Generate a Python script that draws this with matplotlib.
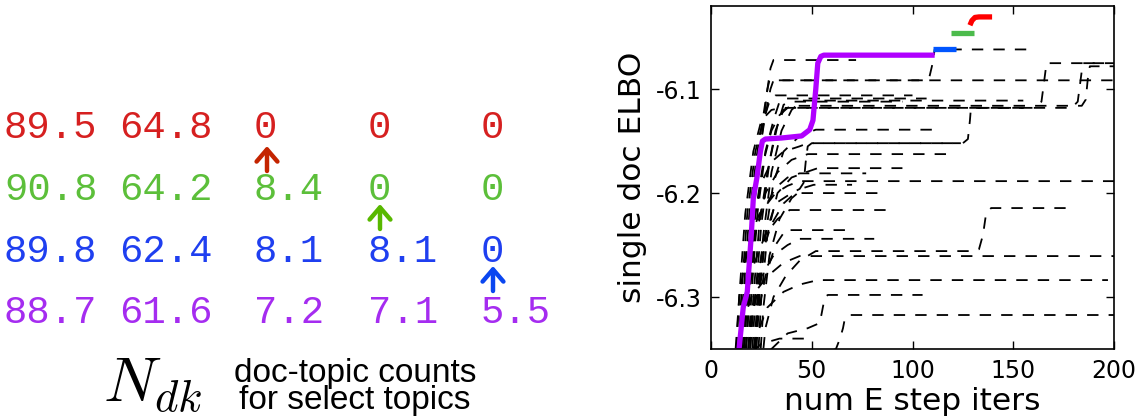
import matplotlib
matplotlib.use('Agg')
import matplotlib.pyplot as plt

W, H = 1147, 419

# ---------------- data ----------------
# doc-topic counts table (rows: red, green, blue, purple)
row_colors = ['#d62020', '#5cbf3a', '#1f3ff0', '#a52cf0']
arrow_colors = ['#c42400', '#58b800', '#0a46f0']
counts_row1 = [89.5, 64.8, 0, 0, 0]
counts_row2 = [90.8, 64.2, 8.4, 0, 0]
counts_row3 = [89.8, 62.4, 8.1, 8.1, 0]
counts_row4 = [88.7, 61.6, 7.2, 7.1, 5.5]
counts_rows = [counts_row1, counts_row2, counts_row3, counts_row4]
arrow_cols = [2, 3, 4]          # column of the zeroed topic for rows 1..3

# ELBO traces: highlighted path
purple_x = [13.4, 16, 18, 20, 21, 22.8, 24.5, 25.5, 27, 35, 45, 49, 50.6, 52, 53, 54.5, 56, 111]
purple_y = [-6.36, -6.31, -6.295, -6.24, -6.205, -6.185, -6.16, -6.15, -6.148, -6.147, -6.145,
            -6.139, -6.13, -6.10, -6.075, -6.0685, -6.0673, -6.0673]
blue_x = [110, 121.5]
blue_y = [-6.0618, -6.0618]
green_x = [119, 130.5]
green_y = [-6.0459, -6.0459]
red_x = [128.5, 129.5, 131, 133, 139.5]
red_y = [-6.0385, -6.034, -6.031, -6.0305, -6.0305]

# other restarts (dashed black)
dashed_x = [
    [14, 16, 19, 23, 26, 28, 29, 200],
    [15, 17, 20, 24, 27, 29.5, 31, 108, 110, 111, 160],
    [16, 18, 21, 25, 28, 29.5, 31, 72],
    [12, 14, 17, 21, 25, 30, 35, 160, 164, 165.5, 166.5, 200],
    [17, 19, 22, 26, 30, 34, 38, 179, 182, 183.5, 184.5, 200],
    [19, 21, 24, 28, 32, 36, 40, 184, 186, 187, 188, 200],
    [13, 15, 18, 22, 26, 29, 32, 100],
    [18, 20, 23, 27, 31, 34, 37, 107],
    [20, 22, 25, 29, 33, 36, 40, 95],
    [21, 23, 26, 30, 35, 40, 45, 155],
    [15.5, 18, 21, 25, 30, 36, 44, 48, 125, 127.5, 128.5, 129, 155],
    [22, 24, 27, 31, 36, 44, 52, 110],
    [16.5, 19, 22, 27, 33, 40, 48, 120],
    [23, 25, 28, 33, 40, 47, 53, 95],
    [13.5, 16, 20, 25, 32, 38, 44, 77],
    [11.5, 14, 18, 24, 32, 38, 44, 200],
    [24, 26, 29, 34, 40, 46, 51, 70],
    [18.5, 21, 25, 30, 36, 40, 44, 85],
    [14.5, 17, 21, 27, 33, 39, 90],
    [20.5, 23, 27, 32, 37, 70],
    [17.5, 20, 25, 31, 38, 44, 81],
    [25, 27, 31, 37, 44, 52, 128, 133, 135, 136.5, 139, 176],
    [12.5, 15, 20, 28, 36, 44, 200],
    [19.5, 22, 28, 36, 44, 53, 197],
    [26, 30, 38, 48, 54, 55.5, 56.5, 58, 105],
    [30, 40, 55, 62, 64, 65.5, 66.5, 69, 200],
    [16, 19, 25, 34, 49],
    [21.5, 23.5, 27, 32, 40, 44, 46, 47, 48, 50, 124],
]
dashed_y = [
    [-6.37, -6.30, -6.22, -6.16, -6.125, -6.10, -6.0915, -6.0915],
    [-6.37, -6.30, -6.22, -6.16, -6.125, -6.10, -6.0915, -6.0915, -6.075, -6.0618, -6.0618],
    [-6.37, -6.30, -6.22, -6.15, -6.10, -6.08, -6.072, -6.072],
    [-6.37, -6.30, -6.22, -6.16, -6.13, -6.12, -6.118, -6.118, -6.112, -6.09, -6.075, -6.075],
    [-6.37, -6.30, -6.22, -6.17, -6.14, -6.125, -6.118, -6.118, -6.112, -6.09, -6.075, -6.075],
    [-6.37, -6.30, -6.23, -6.18, -6.14, -6.12, -6.116, -6.116, -6.11, -6.09, -6.078, -6.078],
    [-6.37, -6.30, -6.22, -6.16, -6.13, -6.112, -6.106, -6.106],
    [-6.37, -6.30, -6.22, -6.16, -6.13, -6.112, -6.109, -6.109],
    [-6.37, -6.30, -6.23, -6.17, -6.135, -6.115, -6.112, -6.112],
    [-6.37, -6.30, -6.24, -6.18, -6.14, -6.12, -6.111, -6.111],
    [-6.37, -6.30, -6.23, -6.19, -6.17, -6.16, -6.155, -6.152, -6.152, -6.148, -6.13, -6.118, -6.118],
    [-6.37, -6.30, -6.24, -6.19, -6.16, -6.145, -6.139, -6.139],
    [-6.37, -6.30, -6.24, -6.20, -6.18, -6.168, -6.1625, -6.1625],
    [-6.37, -6.30, -6.24, -6.20, -6.185, -6.18, -6.176, -6.176],
    [-6.37, -6.30, -6.25, -6.22, -6.195, -6.185, -6.181, -6.181],
    [-6.37, -6.30, -6.25, -6.22, -6.20, -6.193, -6.1885, -6.1885],
    [-6.37, -6.31, -6.26, -6.225, -6.205, -6.195, -6.192, -6.192],
    [-6.37, -6.31, -6.26, -6.23, -6.21, -6.203, -6.20, -6.20],
    [-6.37, -6.31, -6.27, -6.24, -6.225, -6.2163, -6.2163],
    [-6.37, -6.32, -6.28, -6.25, -6.2356, -6.2356],
    [-6.37, -6.32, -6.28, -6.26, -6.25, -6.244, -6.244],
    [-6.37, -6.33, -6.30, -6.28, -6.265, -6.2558, -6.2558, -6.254, -6.24, -6.22, -6.2144, -6.2144],
    [-6.37, -6.33, -6.30, -6.28, -6.267, -6.2606, -6.2606],
    [-6.37, -6.34, -6.31, -6.295, -6.288, -6.2837, -6.2837],
    [-6.37, -6.35, -6.335, -6.33, -6.325, -6.31, -6.30, -6.298, -6.298],
    [-6.37, -6.36, -6.355, -6.35, -6.34, -6.33, -6.32, -6.3173, -6.3173],
    [-6.37, -6.355, -6.345, -6.34, -6.34],
    [-6.37, -6.30, -6.24, -6.21, -6.20, -6.196, -6.19, -6.17, -6.155, -6.152, -6.152],
]

x_ticks = [0, 50, 100, 150, 200]
y_ticks = [-6.3, -6.2, -6.1]
y_tick_labels = ['-6.3', '-6.2', '-6.1']

# ---------------- figure ----------------
fig = plt.figure(figsize=(W / 100, H / 100), dpi=100)

# left panel in pixel coordinates
axL = fig.add_axes([0, 0, 1, 1])
axL.set_xlim(0, W)
axL.set_ylim(H, 0)
axL.axis('off')

col_x = [4, 119, 254, 368, 481]
row_base = [138, 200, 262, 323]
for r, vals in enumerate(counts_rows):
    for c, v in enumerate(vals):
        s = '0' if v == 0 else f'{v:.1f}'
        axL.text(col_x[c], row_base[r], s, color=row_colors[r], fontsize=28,
                 family='Liberation Mono', ha='left', va='baseline')

arrow_x = [267, 380, 493]
arrow_top = [146, 204, 266]
for i, c in enumerate(arrow_cols):
    axL.annotate('', xy=(arrow_x[i], arrow_top[i]), xytext=(arrow_x[i], arrow_top[i] + 25),
                 arrowprops=dict(arrowstyle='->,head_length=0.35,head_width=0.3',
                                 color=arrow_colors[i], lw=3.2, mutation_scale=25,
                                 shrinkA=0, shrinkB=0))

axL.text(103, 402, r'$N_{dk}$', fontsize=46, ha='left', va='baseline',
         math_fontfamily='cm')
axL.text(355, 387, 'doc-topic counts\nfor select topics', fontsize=24,
         family='Liberation Sans', ha='center', va='center', linespacing=0.85)

# right panel
ax = fig.add_axes([711 / W, 1 - 349 / H, (1114 - 711) / W, (349 - 6) / H])
for xs, ys in zip(dashed_x, dashed_y):
    ax.plot(xs, ys, color='black', lw=1.3, linestyle=(0, (6.3, 5.6)))
ax.plot(purple_x, purple_y, color='#b000ff', lw=3.8, solid_capstyle='butt')
ax.plot(blue_x, blue_y, color='#0055ff', lw=3.8, solid_capstyle='butt')
ax.plot(green_x, green_y, color='#4cbb4c', lw=3.8, solid_capstyle='butt')
ax.plot(red_x, red_y, color='#ff0000', lw=3.8, solid_capstyle='butt')

ax.set_xlim(0, 200)
ax.set_ylim(-6.35, -6.02)
ax.set_xticks(x_ticks)
ax.set_yticks(y_ticks)
ax.set_yticklabels(y_tick_labels)
ax.tick_params(direction='in', top=True, right=True, length=6, width=1,
               labelsize=17, pad=7)
for sp in ax.spines.values():
    sp.set_linewidth(1.2)
ax.set_xlabel('num E step iters', fontsize=22.5, labelpad=3)
ax.set_ylabel('single doc ELBO', fontsize=22.5, labelpad=6)

fig.savefig('out.png', dpi=100)
